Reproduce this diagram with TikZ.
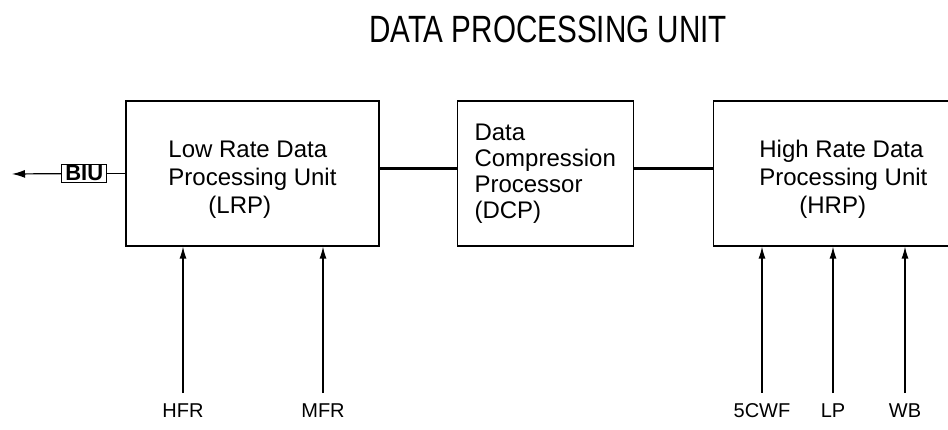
\documentclass[tikz,border=0pt]{standalone}
\usepackage{fontspec}
\setmainfont{Liberation Sans}
\usetikzlibrary{arrows.meta,positioning}

\begin{document}
\begin{tikzpicture}[
  x=1pt, y=-1pt,
  unit/.style  = {draw, line width=1.2pt, align=left, minimum height=145pt,
                  inner sep=0pt, font=\fontsize{24}{28}\selectfont},
  bus/.style   = {line width=3.2pt},
  sig/.style   = {font=\fontsize{20}{22}\selectfont, inner sep=3pt, anchor=base},
  inarr/.style = {-{Latex[length=12pt,width=7pt]}, line width=1.2pt, shorten <=7pt}]
\useasboundingbox (0,0) rectangle (948,430);

\node[anchor=base] (title) at (548,43)
  {\scalebox{0.78}[1]{\fontsize{38}{40}\selectfont DATA PROCESSING UNIT}};

% the three processing blocks (the rule pushes the text a bit lower)
\node[unit, minimum width=253pt] (lrp) at (252.5,173.5)
  {\rule{0pt}{29pt}Low Rate Data\\Processing Unit\\\hspace*{40pt}(LRP)};
\node[unit, minimum width=176pt, font=\fontsize{24}{26}\selectfont,
      right=77pt of lrp] (dcp)
  {Data\\Compression\\Processor\\(DCP)};
\node[unit, minimum width=260pt, right=79pt of dcp] (hrp)
  {\rule{0pt}{29pt}High Rate Data\\Processing Unit\\\hspace*{40pt}(HRP)};

\node[draw, line width=1.3pt, minimum width=45pt, minimum height=18pt,
      inner sep=0pt, font=\fontsize{22}{22}\selectfont\bfseries,
      left=18pt of lrp] (biu) {BIU};
\coordinate (host) at (12,174);

\draw[bus] ([yshift=5pt]lrp.east) -- ([yshift=5pt]dcp.west);
\draw[bus] ([yshift=5pt]dcp.east) -- ([yshift=5pt]hrp.west);
\draw[line width=1.2pt] (biu) -- (lrp);
\draw[-{Latex[length=13pt,width=8pt]}, line width=1.2pt] (biu) -- (host);

% instrument inputs
\node[sig] (hfr)  at (183,417) {HFR};
\node[sig] (mfr)  at (323,417) {MFR};
\node[sig] (scwf) at (762,417) {5CWF};
\node[sig] (lp)   at (833,417) {LP};
\node[sig] (wb)   at (905,417) {WB};

\draw[inarr] (hfr) -- (hfr |- lrp.south);
\draw[inarr] (mfr) -- (mfr |- lrp.south);
\draw[inarr] (scwf) -- (scwf |- hrp.south);
\draw[inarr] (lp) -- (lp |- hrp.south);
\draw[inarr] (wb) -- (wb |- hrp.south);
\end{tikzpicture}
\end{document}
